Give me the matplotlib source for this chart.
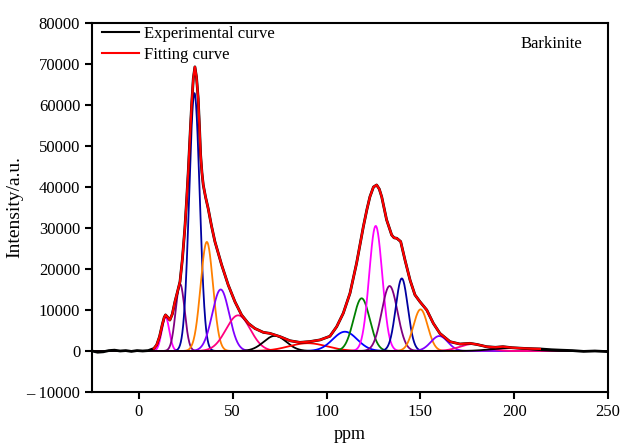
import numpy as np
import matplotlib
matplotlib.use("Agg")
import matplotlib.pyplot as plt
from matplotlib.ticker import FuncFormatter

plt.rcParams['font.family'] = ['Liberation Serif', 'DejaVu Serif']
plt.rcParams['font.size'] = 12

spec_ppm = [-25, -22, -19, -16, -13, -10, -7, -4, -1, 2, 5, 8, 9.5, 11, 12.5, 13.5, 14.2,
            15.2, 16.5, 17.8, 19.2, 20.6, 21.9, 23.2, 24.5, 25.4, 26.3, 27.2, 28.1,
            29.0, 29.85, 30.7, 31.6, 32.3, 32.9, 33.6, 34.3, 35.5, 36.9, 38.7, 40.5,
            44.1, 47.6, 51.2, 54.7, 58.3, 61.8, 66.3, 69.8, 72.5, 75.2, 80.5, 85.8,
            91.2, 96.5, 101.8, 105.4, 108.9, 112.5, 116, 119.6, 121.5, 123.1, 125.0,
            126.7, 128.1, 129.4, 132, 134.7, 136.0, 137.4, 139.5, 141.8, 144.5, 147.1,
            149.8, 153.4, 156.9, 160.4, 165.8, 171.1, 176.4, 180, 185.3, 190, 194,
            199, 204.7, 210, 213.7, 220, 225, 231, 237, 243, 249.5]
spec_int = [0, -300, -200, 100, 200, 0, 100, -100, 100, 0, 100, 600, 1500, 3500, 6500,
            8200, 8800, 8300, 7550, 9000, 12000, 14500, 16900, 22500, 30000, 36500,
            43700, 52000, 60000, 66500, 69300, 66800, 61600, 54500, 47800, 43500,
            40500, 37600, 34800, 30500, 26700, 21000, 16100, 12000, 8800, 6750, 5500,
            4550, 4300, 3900, 3500, 2500, 2100, 2300, 2700, 3600, 5930, 9200, 14100,
            21400, 30300, 34500, 37600, 40000, 40500, 39500, 37600, 32000, 28300,
            27600, 27500, 26700, 22200, 17300, 13700, 12000, 10000, 6750, 4300, 2270,
            1700, 1870, 1600, 1050, 900, 1050, 800, 650, 550, 500, 300, 200, 100,
            -100, 0, -150]

# fitted components: centre (ppm), height, width (sigma, ppm)
peak_center = [14.2, 22.0, 29.6, 36.2, 43.6, 52.9, 72.5, 90.0, 109.8, 118.7,
               126.2, 133.6, 140.1, 150.1, 160.1, 178.0, 198.0]
peak_height = [8300, 16300, 62900, 26600, 15000, 8700, 3700, 1900, 4700, 12850,
               30500, 15850, 17700, 10150, 3650, 1700, 700]
peak_sigma = [2.0, 2.4, 2.8, 3.3, 4.5, 6.5, 6.0, 10.0, 6.5, 4.3,
              3.5, 4.2, 3.2, 3.8, 4.5, 7.0, 10.0]
peak_colors = ['#ff00ff', '#800080', '#0000a0', '#ff8000', '#8000ff', '#ff0080',
               '#000000', '#ff0000', '#0000ff', '#008000',
               '#ff00ff', '#800080', '#0000a0', '#ff8000', '#8000ff', '#ff0080',
               '#000000']

fig = plt.figure(figsize=(6.24, 4.46), dpi=100)
ax = fig.add_axes([0.1474, 0.1211, 0.8270, 0.8273])

x = np.linspace(-25, 250, 2000)
for c, h, s, col in zip(peak_center, peak_height, peak_sigma, peak_colors):
    ax.plot(x, h * np.exp(-(x - c) ** 2 / (2 * s ** 2)), color=col, lw=1.3)

sp = np.array(spec_ppm)
si = np.array(spec_int)
ax.plot(sp, si, color='black', lw=2.0, label='Experimental curve',
        solid_joinstyle='round')
m = (sp >= 8) & (sp <= 214)
ax.plot(sp[m], si[m], color='red', lw=1.6, label='Fitting curve',
        solid_joinstyle='round')

ax.set_xlim(-25, 250)
ax.set_ylim(-10000, 80000)
ax.set_xticks([0, 50, 100, 150, 200, 250])
ax.set_yticks(range(-10000, 80001, 10000))
ax.yaxis.set_major_formatter(FuncFormatter(
    lambda v, p: ('\u2013 %d' % abs(v)) if v < 0 else '%d' % v))

for sp_name in ['left', 'bottom', 'top', 'right']:
    ax.spines[sp_name].set_linewidth(1.5)
ax.tick_params(axis='both', direction='out', length=5, width=1.5, labelsize=12)
ax.tick_params(axis='x', pad=4)

ax.set_xlabel('ppm', fontsize=13, labelpad=4)
ax.set_ylabel('Intensity/a.u.', fontsize=14, labelpad=2)

leg = ax.legend(loc='upper left', frameon=False, fontsize=12, handlelength=2.2,
                bbox_to_anchor=(0.0, 1.02), borderaxespad=0.2,
                handletextpad=0.3, labelspacing=0.3)
for ln in leg.get_lines():
    ln.set_linewidth(1.5)
ax.text(0.951, 0.943, 'Barkinite', transform=ax.transAxes, ha='right',
        va='center', fontsize=12)

fig.savefig('out.png', dpi=100)
